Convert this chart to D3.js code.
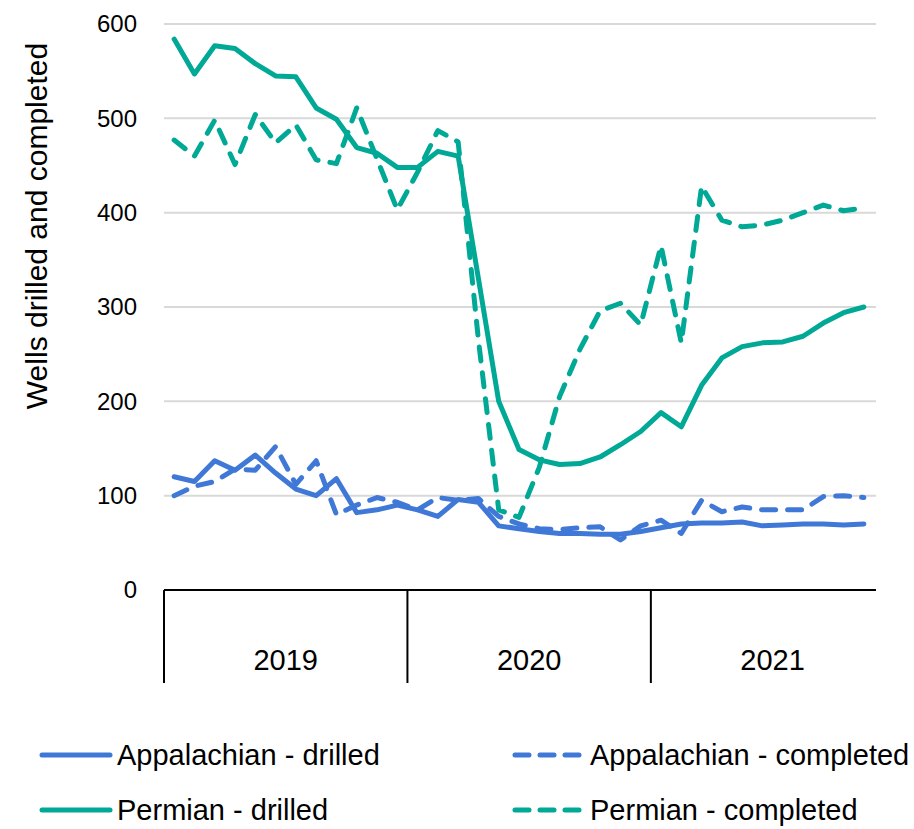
<!DOCTYPE html>
<html>
<head>
<meta charset="utf-8">
<script src="https://cdn.jsdelivr.net/npm/d3@7/dist/d3.min.js"></script>
<style>
  body { margin: 0; background: #fff; }
  text { font-family: "Liberation Sans", Arial, sans-serif; fill: #000; }
</style>
</head>
<body>
<div id="chart"></div>
<script>
// monthly categories, Jan 2019 - Nov 2021
var months = ["2019-01","2019-02","2019-03","2019-04","2019-05","2019-06","2019-07","2019-08","2019-09","2019-10","2019-11","2019-12",
              "2020-01","2020-02","2020-03","2020-04","2020-05","2020-06","2020-07","2020-08","2020-09","2020-10","2020-11","2020-12",
              "2021-01","2021-02","2021-03","2021-04","2021-05","2021-06","2021-07","2021-08","2021-09","2021-10","2021-11"];
var years = ["2019", "2020", "2021"];
var yTicks = [0, 100, 200, 300, 400, 500, 600];

var appDrilled = [120,115,137,127,143,124,107,100,118,82,85,90,85,78,96,93,68,65,62,60,60,59,59,62,66,70,71,71,72,68,69,70,70,69,70];
var appCompleted = [100,110,115,128,127,152,112,137,80,90,98,93,85,98,95,97,78,70,65,64,66,67,53,68,74,60,95,83,88,85,85,85,99,100,98];
var permDrilled = [584,547,577,574,558,545,544,511,499,469,463,448,448,465,460,330,200,149,138,133,134,141,154,168,188,173,217,246,258,262,263,269,283,294,300];
var permCompleted = [477,460,498,451,504,474,493,456,452,511,457,403,443,487,475,265,85,77,130,205,255,296,304,281,365,262,428,392,385,387,392,400,408,402,405];

var blue = "#3f78d6", teal = "#00a896";
var series = [
  {name: "Appalachian - drilled", values: appDrilled, color: blue, dash: null},
  {name: "Appalachian - completed", values: appCompleted, color: blue, dash: "14,12"},
  {name: "Permian - drilled", values: permDrilled, color: teal, dash: null},
  {name: "Permian - completed", values: permCompleted, color: teal, dash: "14,12"}
];

var W = 914, H = 829;
var plotLeft = 164, plotRight = 874, plotTop = 24, plotBottom = 590;

var svg = d3.select("#chart").append("svg")
    .attr("width", W)
    .attr("height", H);

var x = d3.scaleBand()
    .domain(months)
    .range([plotLeft, plotRight])
    .padding(0);
var y = d3.scaleLinear()
    .domain([0, 600])
    .range([plotBottom, plotTop]);

// gridlines
svg.append("g")
    .selectAll("line")
    .data(yTicks.filter(function(d) { return d > 0; }))
    .enter().append("line")
    .attr("x1", plotLeft)
    .attr("x2", plotRight + 2)
    .attr("y1", function(d) { return y(d); })
    .attr("y2", function(d) { return y(d); })
    .attr("stroke", "#d9d9d9")
    .attr("stroke-width", 2);

// y axis labels
var yAxis = svg.append("g")
    .attr("transform", "translate(" + plotLeft + ",0)")
    .call(d3.axisLeft(y).tickValues(yTicks).tickSize(0).tickPadding(27));
yAxis.select(".domain").remove();
yAxis.selectAll("text")
    .style("font-size", "24px")
    .style("font-family", "Liberation Sans, Arial, sans-serif")
    .attr("fill", "#000");

// y title
svg.append("text")
    .attr("transform", "translate(47,226) rotate(-90)")
    .attr("text-anchor", "middle")
    .style("font-size", "30px")
    .text("Wells drilled and completed");

// x axis line and year separators
svg.append("line")
    .attr("x1", plotLeft).attr("x2", plotRight + 2)
    .attr("y1", plotBottom).attr("y2", plotBottom)
    .attr("stroke", "#000").attr("stroke-width", 2);

years.forEach(function(yr) {
    var x0 = x(yr + "-01");
    svg.append("line")
        .attr("x1", x0).attr("x2", x0)
        .attr("y1", plotBottom).attr("y2", 683)
        .attr("stroke", "#000").attr("stroke-width", 2);
    svg.append("text")
        .attr("x", x0 + 6 * x.bandwidth())
        .attr("y", 670)
        .attr("text-anchor", "middle")
        .style("font-size", "29px")
        .text(yr);
});

// lines
var line = d3.line()
    .x(function(d, i) { return x(months[i]) + x.bandwidth() / 2; })
    .y(function(d) { return y(d); });

svg.append("g")
    .selectAll("path")
    .data(series)
    .enter().append("path")
    .attr("fill", "none")
    .attr("stroke", function(d) { return d.color; })
    .attr("stroke-width", 5)
    .attr("stroke-linejoin", "round")
    .attr("stroke-linecap", "round")
    .attr("stroke-dasharray", function(d) { return d.dash; })
    .attr("d", function(d) { return line(d.values); });

// legend
var legPos = [[42, 755], [515, 755], [42, 810], [515, 810]];
series.forEach(function(s, i) {
    var p = legPos[i];
    svg.append("line")
        .attr("x1", p[0]).attr("x2", p[0] + 68)
        .attr("y1", p[1]).attr("y2", p[1])
        .attr("stroke", s.color)
        .attr("stroke-width", 5)
        .attr("stroke-linecap", "round")
        .attr("stroke-dasharray", s.dash ? "14,11" : null);
    svg.append("text")
        .attr("x", p[0] + 75)
        .attr("y", p[1])
        .attr("dy", "0.35em")
        .style("font-size", "29px")
        .text(s.name);
});
</script>
</body>
</html>
